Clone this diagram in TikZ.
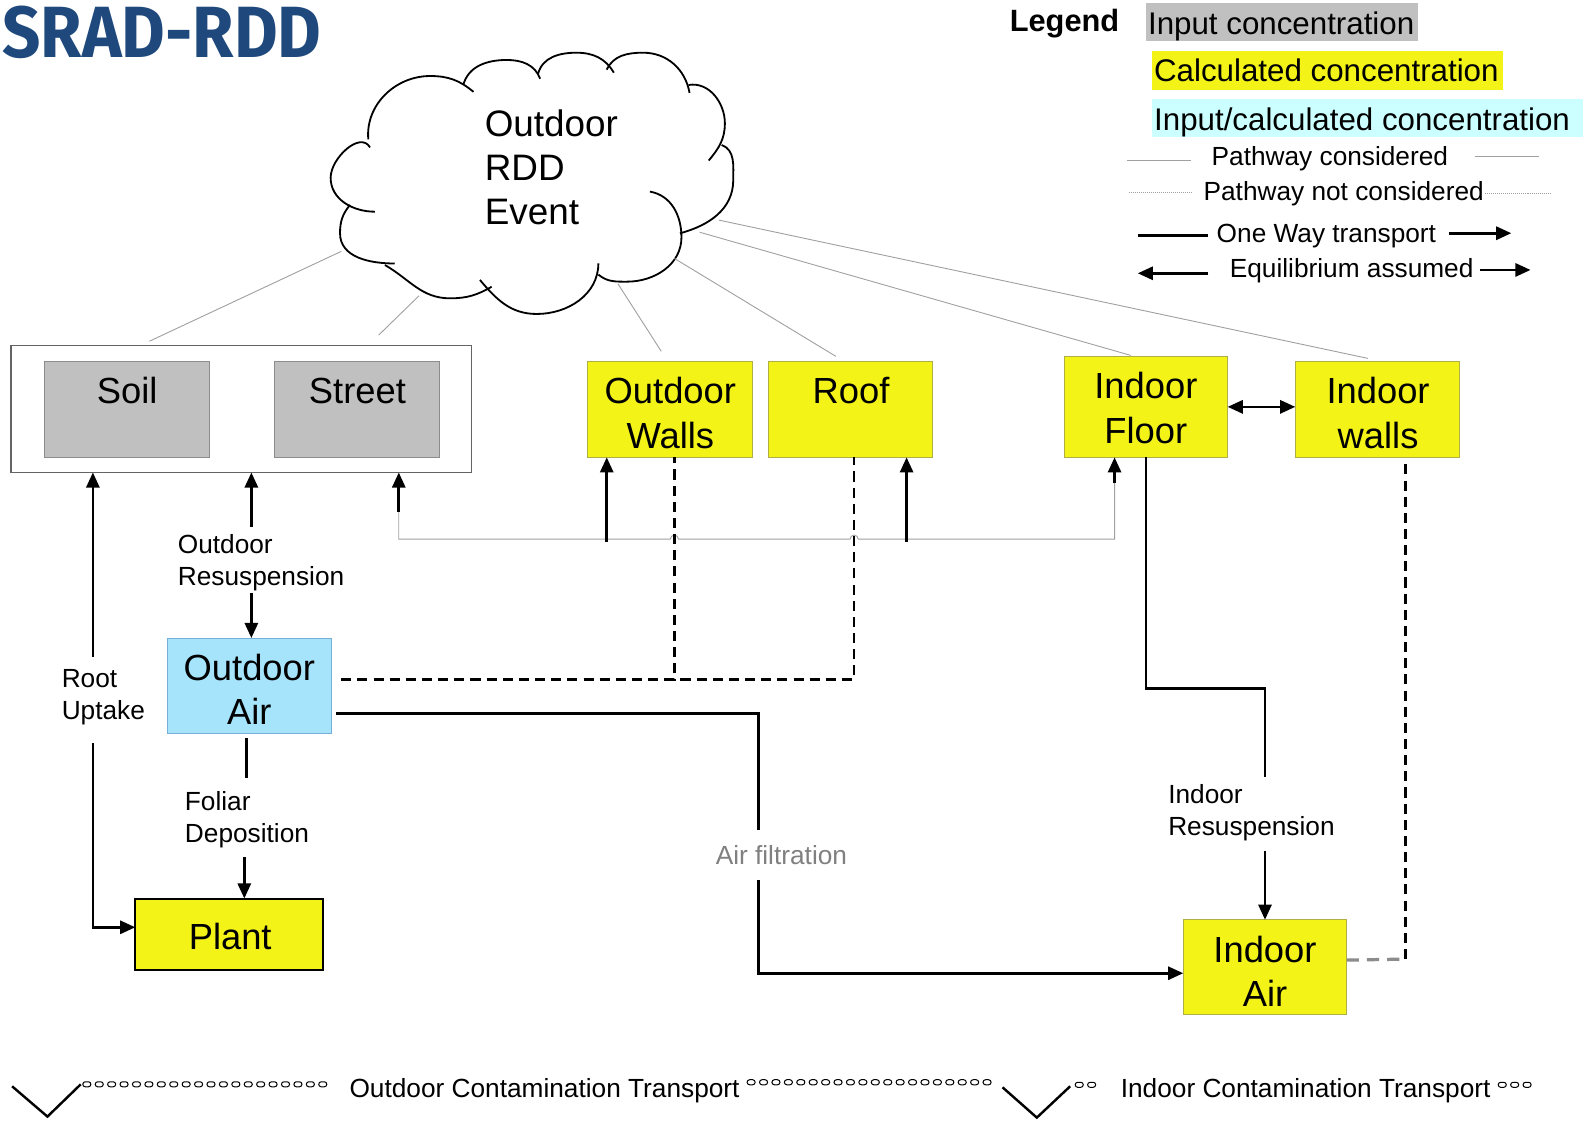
\documentclass[tikz,border=0pt]{standalone}
\usepackage{graphicx}
\usepackage{fontspec}
\setmainfont{Liberation Sans}
\newfontfamily\titlefont{Fira Sans}
\usetikzlibrary{arrows.meta}
\definecolor{yelfill}{RGB}{243,243,24}
\definecolor{yeldraw}{RGB}{175,175,70}
\definecolor{grayfill}{RGB}{192,192,192}
\definecolor{graydraw}{RGB}{140,140,140}
\definecolor{outerdraw}{RGB}{100,100,100}
\definecolor{bluefill}{RGB}{166,228,252}
\definecolor{bluedraw}{RGB}{120,175,215}
\definecolor{cyanfill}{RGB}{204,255,255}
\definecolor{titleblue}{RGB}{31,73,125}
\definecolor{thingray}{RGB}{160,160,160}
\definecolor{labelgray}{RGB}{128,128,128}
\definecolor{dashgray}{RGB}{140,140,140}
\newcommand\fsz[2]{\fontsize{#1}{#2}\selectfont}
\newcommand\twoc[2]{\begin{tabular}[t]{@{}c@{}}#1\\#2\end{tabular}}
\newcommand\twol[2]{\begin{tabular}[t]{@{}l@{}}#1\\#2\end{tabular}}
\newcommand\threel[3]{\begin{tabular}[t]{@{}l@{}}#1\\#2\\#3\end{tabular}}
\begin{document}
\begin{tikzpicture}[x=1pt,y=-1pt,
  box/.style={anchor=north west, inner sep=0pt, outer sep=0pt},
  ybox/.style={box, draw=yeldraw, fill=yelfill, line width=0.8pt},
  gbox/.style={box, draw=graydraw, fill=grayfill, line width=0.8pt},
  big/.style={font=\fsz{36}{44}, inner sep=0pt, anchor=base},
  lbl/.style={font=\fsz{26}{32}, inner sep=0pt, anchor=base west},
  arr/.style={line width=2.6pt, -{Triangle[length=15pt,width=13pt]}},
  barr/.style={line width=2.6pt, {Triangle[length=15pt,width=13pt]}-{Triangle[length=15pt,width=13pt]}},
  plain/.style={line width=2.6pt},
  dsh/.style={line width=2.4pt, dash pattern=on 10pt off 6pt},
  thinline/.style={draw=thingray, line width=0.9pt},
  dotline/.style={draw=thingray, line width=0.8pt, dash pattern=on 1pt off 1pt},
  cloudline/.style={line width=1.8pt},
  obox/.style={line width=1pt, rounded corners=2.5pt}
]
\useasboundingbox (0,0) rectangle (1568,1110);

% ---------- title ----------
\node[anchor=base west, inner sep=0pt, text=titleblue] (title) at (2,57)
  {\resizebox{316pt}{51pt}{\titlefont\bfseries SRAD-RDD}};

% ---------- legend ----------
\node[anchor=base west, inner sep=0pt, font=\fsz{30.5}{36}\bfseries] (lgtitle) at (1000,31) {Legend};
\node[box, fill=grayfill, minimum width=270pt, minimum height=38pt] (lgin) at (1135,3) {};
\node[anchor=base west, inner sep=0pt, font=\fsz{31}{37}] (lgint) at (1137,34) {Input concentration};
\node[box, fill=yelfill, minimum width=348pt, minimum height=38pt] (lgcalc) at (1141,51) {};
\node[anchor=base west, inner sep=0pt, font=\fsz{31}{37}] (lgcalct) at (1143,81) {Calculated concentration};
\node[box, fill=cyanfill, minimum width=427pt, minimum height=38pt] (lgic) at (1141,98) {};
\node[anchor=base west, inner sep=0pt, font=\fsz{31}{37}] (lgict) at (1143,129) {Input/calculated concentration};

\node[lbl] (lgpc) at (1200,164) {Pathway considered};
\draw[thinline] (1116,158.8) -- (1180,158.8);
\draw[thinline] (1461,154.5) -- (1524,154.5);
\node[lbl] (lgpn) at (1192,199) {Pathway not considered};
\draw[dotline] (1118,190.5) -- (1182,190.5);
\draw[dotline] (1471,192) -- (1537,192);
\node[lbl] (lgow) at (1205,240) {One Way transport};
\draw[plain] (1127,233) -- (1197,233);
\draw[arr] (1435,231) -- (1497,231);
\node[lbl] (lgeq) at (1218,275) {Equilibrium assumed};
\draw[arr] (1197,270.7) -- (1127,270.7);
\draw[arr] (1466,267.4) -- (1516,267.4);

% ---------- cloud ----------
\begin{scope}[y=1pt]
\draw[cloudline] (364.8,-138) to[out=95,in=180] (426,-75.3) to[out=0,in=140] (469,-91);
\draw[cloudline] (458.9,-84.2) to[out=75,in=180] (502,-59.4) to[out=0,in=110] (535,-78);
\draw[cloudline] (533,-73) to[out=75,in=180] (571,-52.2) to[out=0,in=120] (608,-72);
\draw[cloudline] (601,-69) to[out=65,in=180] (637,-52.2) to[out=0,in=100] (683,-92);
\draw[cloudline] (682,-84.2) to[out=10,in=90] (718,-122) to[out=-90,in=50] (702,-159);
\draw[cloudline] (714.8,-143.6) to[out=-20,in=90] (726.3,-178.3) to[out=-90,in=15] (673.5,-231.1);
\draw[cloudline] (643.8,-189.8) to[out=-10,in=90] (675,-235) to[out=-90,in=0] (621,-279) to[out=180,in=-40] (592.7,-272);
\draw[cloudline] (592.7,-260.8) to[out=-90,in=0] (531.6,-311) to[out=180,in=-50] (475.4,-277.3);
\draw[cloudline] (487,-284) to[out=-150,in=0] (445.7,-295.5) to[out=180,in=-30] (381.3,-262.5);
\draw[cloudline] (346.7,-203) to[out=-130,in=90] (336.8,-231) to[out=-90,in=180] (391,-261);
\draw[cloudline] (366.5,-146) to[out=120,in=90] (327.5,-176) to[out=-90,in=180] (371.4,-209.7);
\end{scope}
\node[anchor=base west, inner sep=0pt, font=\fsz{36.5}{43.5}] (cloudt) at (480,135) {\threel{Outdoor}{RDD}{Event}};
\coordinate (c1) at (338,249);
\coordinate (c2) at (415,293);
\coordinate (c3) at (612,281);
\coordinate (c4) at (668,256);
\coordinate (c5) at (693,230);
\coordinate (c6) at (712,218);

% ---------- boxes ----------
\node[box, draw=outerdraw, line width=1.2pt, minimum width=456pt, minimum height=126pt] (outer) at (11,342) {};
\node[gbox, minimum width=163pt, minimum height=95pt] (soil) at (44,358) {};
\node[gbox, minimum width=163pt, minimum height=95pt] (street) at (272,358) {};
\node[ybox, minimum width=163pt, minimum height=95pt] (owalls) at (582,358) {};
\node[ybox, minimum width=163pt, minimum height=95pt] (roof) at (761,358) {};
\node[ybox, minimum width=162pt, minimum height=100pt] (ifloor) at (1054,353) {};
\node[ybox, minimum width=163pt, minimum height=95pt] (iwalls) at (1283,358) {};
\node[box, draw=bluedraw, fill=bluefill, line width=0.8pt, minimum width=162pt, minimum height=94pt] (oair) at (166,632) {};
\node[box, draw=black, fill=yelfill, line width=2pt, minimum width=186pt, minimum height=71pt] (plant) at (134,890) {};
\node[ybox, minimum width=162pt, minimum height=94pt] (iair) at (1172,911) {};

\node[big] (soilt) at (126,400) {Soil};
\node[big] (streett) at (354,400) {Street};
\node[big] (owallst) at (664,400) {\twoc{Outdoor}{Walls}};
\node[big] (rooft) at (843,400) {Roof};
\node[big] (ifloort) at (1135,395) {\twoc{Indoor}{Floor}};
\node[big] (iwallst) at (1365,400) {\twoc{Indoor}{walls}};
\node[big] (oairt) at (247,674) {\twoc{Outdoor}{Air}};
\node[big] (plantt) at (228,940) {Plant};
\node[big] (iairt) at (1253,953) {\twoc{Indoor}{Air}};

% ---------- cloud pathways ----------
\draw[thinline] (c1) -- ([xshift=-91pt,yshift=4pt]outer.north);
\draw[thinline] (c2) -- ([xshift=136pt,yshift=10pt]outer.north);
\draw[thinline] (c3) -- ([xshift=-8.5pt,yshift=10pt]owalls.north);
\draw[thinline] (c4) -- ([xshift=-14.5pt,yshift=5pt]roof.north);
\draw[thinline] (c5) -- ([xshift=-15pt,yshift=1pt]ifloor.north);
\draw[thinline] (c6) -- ([xshift=-9.5pt,yshift=3pt]iwalls.north);

% ---------- labels ----------
\node[lbl] (rul) at (61,681) {\twol{Root}{Uptake}};
\node[lbl] (orl) at (176,548) {\twol{Outdoor}{Resuspension}};
\node[lbl] (fdl) at (183,803) {\twol{Foliar}{Deposition}};
\node[lbl] (irl) at (1157,796) {\twol{Indoor}{Resuspension}};
\node[font=\fsz{26}{32}, inner sep=0pt, anchor=base, text=labelgray] (afl) at (774,856) {Air filtration};

% ---------- connectors ----------
% root uptake
\coordinate (ru1) at (92,651);
\coordinate (ru2) at (92,736);
\draw[arr] (ru1) -- (ru1 |- outer.south);
\draw[arr] (ru2) |- ([yshift=7pt]plant.west);
% outdoor resuspension
\coordinate (or1) at (249,522);
\coordinate (or2) at (249,587);
\draw[arr] (or1) -- (or1 |- outer.south);
\draw[arr] (or2) -- (or2 |- oair.north);
% foliar deposition
\coordinate (fd0) at (244,731);
\coordinate (fd1) at (244,771);
\coordinate (fd2) at (242,849);
\draw[plain] (fd0) -- (fd1);
\draw[arr] (fd2) -- (fd2 |- plant.north);
% air filtration
\coordinate (af0) at (333,707);
\coordinate (af1) at (751,822);
\coordinate (af2) at (751,872);
\draw[plain] (af0) -| (af1);
\draw[arr] (af2) |- ([yshift=-6pt]iair.west);
% gray pathway line with hops
\coordinate (st1) at (395,507);
\coordinate (if1) at (1104,478);
\draw[thinline] (st1) -- (395,534) -- (664,534) arc[start angle=180,end angle=0,radius=4pt]
  -- (842,534) arc[start angle=180,end angle=0,radius=4pt] -- (1104,534) -- (if1);
\draw[arr] (st1) -- (st1 |- outer.south);
\draw[arr] (if1) -- (if1 |- ifloor.south);
% outdoor air deposition (dashed, not considered)
\coordinate (od0) at (338,673);
\draw[dsh] (od0) -| ([xshift=4.5pt]owalls.south);
\draw[dsh] (od0) -| ([xshift=3.5pt]roof.south);
% arrows up to walls and roof
\coordinate (ow1) at (601,537);
\coordinate (rf1) at (898,537);
\draw[arr] (ow1) -- (ow1 |- owalls.south);
\draw[arr] (rf1) -- (rf1 |- roof.south);
% indoor floor <-> indoor walls
\draw[barr] (ifloor.east) -- (ifloor.east -| iwalls.west);
% indoor resuspension
\coordinate (irk) at (1253,682);
\coordinate (ir1) at (1253,770);
\coordinate (ir2) at (1253,843);
\draw[plain] (ifloor.south) |- (irk) -- (ir1);
\draw[arr] (ir2) -- (iair.north);
% indoor walls dashed
\coordinate (iw1) at (1392,460);
\coordinate (iw2) at (1392,950);
\draw[dsh] (iw1) -- (iw2);
\draw[draw=dashgray, line width=3.2pt, dash pattern=on 12pt off 8pt] ([yshift=7pt]iair.east) -- (iw2);

% ---------- bottom legend ----------
\draw[line width=2.4pt] (12,1076) -- (47,1106) -- (80,1074);
\foreach \i in {0,...,19} \draw[obox] (82+\i*12.3,1071.5) rectangle ++(8,5);
\node[lbl] (bt1) at (346,1087) {Outdoor Contamination Transport};
\foreach \i in {0,...,19} \draw[obox] (740+\i*12.3,1069.5) rectangle ++(8,5);
\draw[line width=2.4pt] (993,1077) -- (1027,1107) -- (1060,1076);
\foreach \i in {0,1} \draw[obox] (1065+\i*12.3,1072) rectangle ++(8,5);
\node[lbl] (bt2) at (1110,1087) {Indoor Contamination Transport};
\foreach \i in {0,1,2} \draw[obox] (1484+\i*12.3,1072) rectangle ++(8,5);
\end{tikzpicture}
\end{document}
